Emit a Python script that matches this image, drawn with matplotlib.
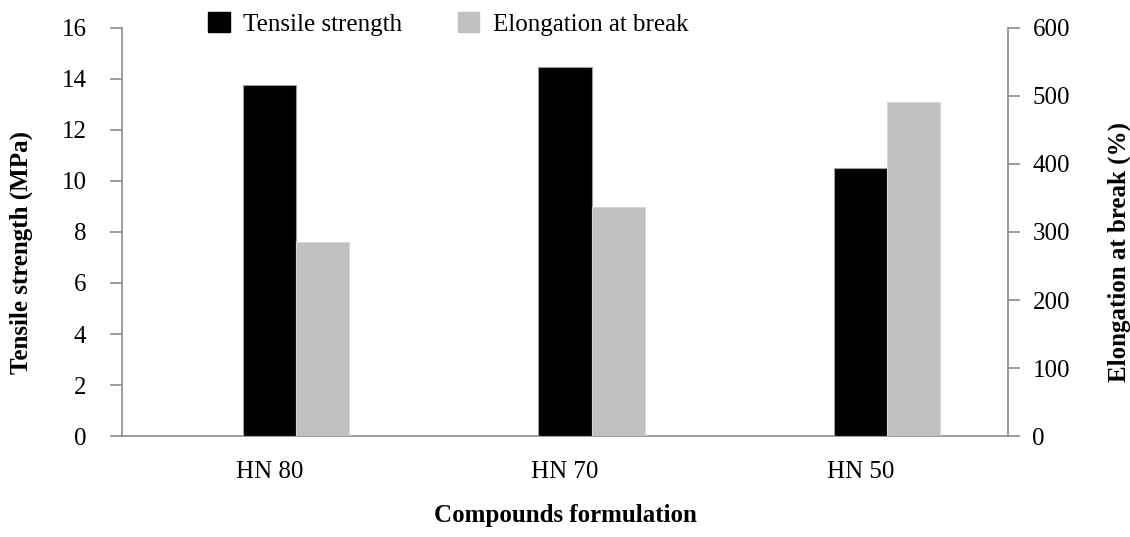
import matplotlib
matplotlib.use("Agg")
import matplotlib.pyplot as plt
import numpy as np
from matplotlib.patches import Patch

compounds = ["HN 80", "HN 70", "HN 50"]
tensile = [13.75, 14.45, 10.5]        # MPa, left axis
elongation = [285, 336, 491]          # %, right axis

plt.rcParams["font.family"] = ["Liberation Serif", "DejaVu Serif"]

fig = plt.figure(figsize=(11.3, 5.37), dpi=100)
ax = fig.add_axes([0.108, 0.188, 0.784, 0.760])
ax2 = ax.twinx()

x = np.arange(len(compounds))
w = 0.18
ax.bar(x, tensile, width=w, color="black", edgecolor="#a0a0a0", linewidth=0.8, zorder=3)
ax2.bar(x + w, elongation, width=w, color="#c0c0c0", edgecolor="#d8d8d8", linewidth=0.8, zorder=3)

ax.set_xlim(-0.5, 2.5)
ax.set_ylim(0, 16)
ax2.set_ylim(0, 600)
ax.set_yticks(np.arange(0, 17, 2))
ax2.set_yticks(np.arange(0, 601, 100))
ax.set_xticks(x)
ax.set_xticklabels(compounds)

for a in (ax, ax2):
    a.spines["top"].set_visible(False)
ax.spines["right"].set_visible(False)
ax2.spines["left"].set_visible(False)
ax2.spines["bottom"].set_visible(False)
for s in (ax.spines["bottom"], ax.spines["left"], ax2.spines["right"]):
    s.set_color("#8c8c8c")
    s.set_linewidth(1.2)

ax.tick_params(axis="y", length=8.6, width=1.2, color="#8c8c8c", labelsize=18, pad=17)
ax.tick_params(axis="x", length=0, labelsize=18, pad=18)
ax2.tick_params(axis="y", length=8.6, width=1.2, color="#8c8c8c", labelsize=18, pad=9)

ax.set_ylabel("Tensile strength (MPa)", fontsize=18, fontweight="bold")
ax.yaxis.set_label_coords(-0.100, 0.45)
ax2.set_ylabel("Elongation at break (%)", fontsize=18, fontweight="bold")
ax2.yaxis.set_label_coords(1.113, 0.45)
ax.set_xlabel("Compounds formulation", fontsize=18, fontweight="bold", labelpad=15)

handles = [Patch(facecolor="black", edgecolor="black"),
           Patch(facecolor="#c0c0c0", edgecolor="#c0c0c0")]
fig.legend(handles, ["Tensile strength", "Elongation at break"],
           loc="center left", bbox_to_anchor=(0.1645, 0.955), ncol=2, frameon=False,
           fontsize=18, handlelength=0.85, handleheight=0.85, columnspacing=2.2,
           handletextpad=0.55)

fig.savefig("out.png", dpi=100)
